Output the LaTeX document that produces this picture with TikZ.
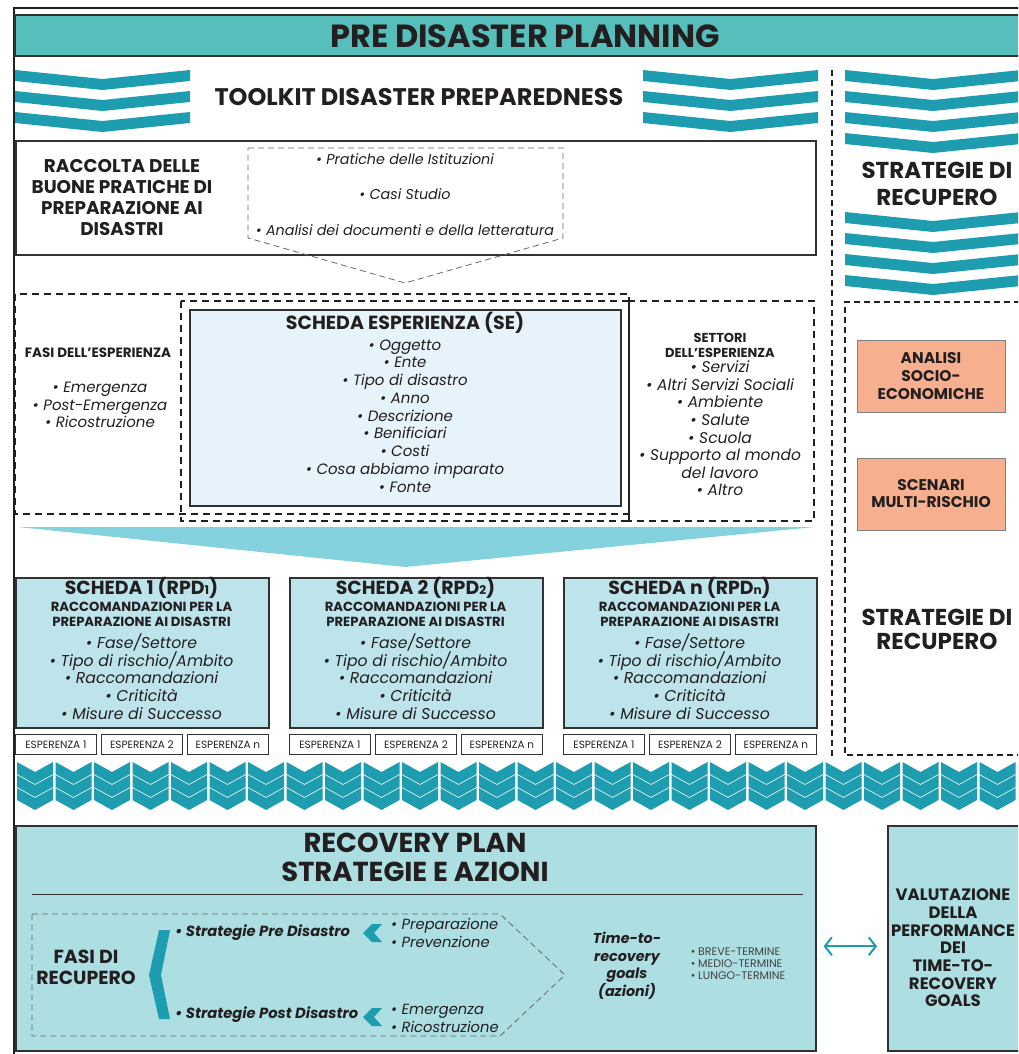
\documentclass[tikz,border=0pt]{standalone}
\usepackage{fontspec}
\setmainfont{Poppins}
\usetikzlibrary{arrows.meta}
\definecolor{kopf}{RGB}{86,191,188}
\definecolor{band}{RGB}{30,156,176}
\definecolor{seblau}{RGB}{231,243,250}
\definecolor{karte}{RGB}{190,228,235}
\definecolor{trichter}{RGB}{132,210,222}
\definecolor{plan}{RGB}{172,222,226}
\definecolor{lachs}{RGB}{246,176,143}
\definecolor{tinte}{RGB}{35,31,32}
\definecolor{rahmen}{RGB}{50,50,50}
\newcommand{\fsz}[2]{\fontsize{#1}{#2}\selectfont}
% one wide V stripe: x, y, width
\newcommand{\streifen}[3]{\fill[band] (#1,#2) -- ++(#3/2,9) -- ++(#3/2,-9) -- ++(0,11) -- ++(-#3/2,9) -- ++(-#3/2,-9) -- cycle;}

\begin{document}
\begin{tikzpicture}[x=1pt,y=-1pt,tinte,
    box/.style={draw=rahmen, line width=1.6pt},
    strich/.style={draw=tinte, line width=1.6pt, dash pattern=on 7pt off 5pt},
    fein/.style={draw=gray!80!black, line width=0.8pt, dash pattern=on 6pt off 4pt},
    txt/.style={inner sep=0pt, align=center, text=tinte},
    esp/.style={draw=rahmen, line width=0.8pt, minimum width=81pt, minimum height=20pt, inner sep=0pt, font=\fsz{10.5}{12}}]

    \useasboundingbox (0,0) rectangle (1018,1054);
    \clip (0,0) rectangle (1018,1054);

    % frame and header
    \draw[line width=1.2pt] (14,1070) -- (14,8) -- (1030,8);
    \node[box, fill=kopf, minimum width=1016pt, minimum height=41pt, anchor=north west] (kopfbalken) at (14,14) {};
    \node[txt, font=\fsz{32}{34}\bfseries] (titel) at (525,36) {PRE DISASTER PLANNING};

    % stripes
    \foreach \y in {70,91,112} {
        \streifen{15}{\y}{175}
        \streifen{643}{\y}{175}
    }
    \foreach \y in {70,91,112,133,212,233,254,275} {
        \streifen{845}{\y}{176}
    }
    \node[txt, font=\fsz{24}{26}\bfseries] (toolkit) at (419,97) {TOOLKIT DISASTER PREPAREDNESS};
    \node[txt, font=\fsz{23}{27}\bfseries] (strat) at (937,183.5) {STRATEGIE DI\\RECUPERO};

    % raccolta
    \node[box, minimum width=800pt, minimum height=114pt, anchor=north west] (raccolta) at (15,140) {};
    \node[txt, font=\fsz{18.4}{21}\bfseries] (raccoltatxt) at (122,197.5) {RACCOLTA DELLE\\BUONE PRATICHE DI\\PREPARAZIONE AI\\DISASTRI};
    \draw[fein] (248,148) -- (563,148) -- (563,238) -- (405,283) coordinate (spitze) -- (248,238) -- cycle;
    \node[txt, font=\fsz{14.3}{35.5}\itshape] (quellen) at (405,194.5) {• Pratiche delle Istituzioni\\• Casi Studio\\• Analisi dei documenti e della letteratura};

    % scheda esperienza
    \draw[strich] (15,294) rectangle (629,514);
    \draw[strich] (181,301) rectangle (629,521);
    \draw[strich] (629,301) rectangle (814,521);
    \node[box, fill=seblau, minimum width=431pt, minimum height=196pt, anchor=north west] (se) at (189,309) {};
    \node[txt, font=\fsz{19}{20}\bfseries] (setitel) at (405,323) {SCHEDA ESPERIENZA (SE)};
    \node[txt, font=\fsz{15}{17.75}\itshape] (sepunkte) at (405,416) {• Oggetto\\• Ente\\• Tipo di disastro\\• Anno\\• Descrizione\\• Benificiari\\• Costi\\• Cosa abbiamo imparato\\• Fonte};
    \node[txt, font=\fsz{13.5}{15}\bfseries] (fasititel) at (98,353) {FASI DELL’ESPERIENZA};
    \node[txt, font=\fsz{15}{17.5}\itshape] (fasipunkte) at (100,405) {• Emergenza\\• Post-Emergenza\\• Ricostruzione};
    \node[txt, font=\fsz{13}{15}\bfseries] (settorititel) at (720,345.5) {SETTORI\\DELL’ESPERIENZA};
    \node[txt, font=\fsz{15.5}{17.6}\itshape] (settoripunkte) at (720,428.5) {• Servizi\\• Altri Servizi Sociali\\• Ambiente\\• Salute\\• Scuola\\• Supporto al mondo\\del lavoro\\• Altro};

    % funnel
    \fill[trichter] (18,527) -- (815,527) -- (405,567) -- cycle;

    % schede RPD
    \foreach \n/\x in {1/15, 2/289, n/563} {
        \node[box, fill=karte, minimum width=253pt, minimum height=150pt, anchor=north west] (karte\n) at (\x,577) {};
        \node[txt, font=\fsz{18.9}{20}\bfseries] (kartetitel\n) at (\x+126.5,588) {SCHEDA \n{} (RPD{\fsz{12}{12}\n})};
        \node[txt, font=\fsz{13.2}{15}\bfseries] (karteunter\n) at (\x+126.5,614.5) {RACCOMANDAZIONI PER LA\\PREPARAZIONE AI DISASTRI};
        \node[txt, font=\fsz{15.7}{17.75}\itshape] (kartepunkte\n) at (\x+126.5,676.5) {• Fase/Settore\\• Tipo di rischio/Ambito\\• Raccomandazioni\\• Criticità\\• Misure di Successo};
        \node[esp, anchor=north west] (esp\n-1) at (\x,734) {ESPERENZA 1};
        \node[esp, anchor=north west] (esp\n-2) at (\x+86,734) {ESPERENZA 2};
        \node[esp, anchor=north west] (esp\n-n) at (\x+172,734) {ESPERENZA n};
    }

    % right column
    \draw[strich, line width=1.4pt, dash pattern=on 6pt off 4pt] (832,70) -- (832,756);
    \draw[strich, line width=1.4pt, dash pattern=on 6pt off 4pt] (1030,302) -- (845,302) -- (845,755) -- (1030,755);
    \node[draw=gray, line width=1pt, fill=lachs, minimum width=148pt, minimum height=72pt, txt, font=\fsz{15.5}{18}\bfseries] (analisi) at (931,376) {ANALISI\\SOCIO-\\ECONOMICHE};
    \node[draw=gray, line width=1pt, fill=lachs, minimum width=148pt, minimum height=72pt, txt, font=\fsz{15.5}{17}\bfseries] (scenari) at (931,494) {SCENARI\\MULTI-RISCHIO};
    \node[txt, font=\fsz{23}{24}\bfseries] (stratunten) at (937,629) {STRATEGIE DI\\RECUPERO};

    % chevron row
    \foreach \i in {0,...,26} {
        \foreach \j in {0,1,2} {
            \fill[band] ({17+38.5*\i},{762+13*\j}) -- ++(18,10) -- ++(18,-10) -- ++(0,12) -- ++(-18,10) -- ++(-18,-10) -- cycle;
        }
    }

    % recovery plan
    \node[box, fill=plan, minimum width=800pt, minimum height=225pt, anchor=north west] (plan) at (15,825) {};
    \node[box, fill=plan, minimum width=150pt, minimum height=225pt, anchor=north west] (valut) at (887,825) {};
    \node[txt, font=\fsz{27.4}{29}\bfseries] (plantitel) at (415,857.5) {RECOVERY PLAN\\STRATEGIE E AZIONI};
    \draw[rahmen, line width=1pt] (32,894) -- (803,894);
    \draw[fein] (32,914) -- (500,914) -- (565,975) -- (500,1036) -- (32,1036) -- cycle;
    \node[txt, font=\fsz{18.9}{21}\bfseries] (fasi) at (86,967.5) {FASI DI\\RECUPERO};
    \fill[band] (159,930) -- (170,930) -- (161,975) -- (170,1019) -- (159,1019) -- (149,975) -- cycle;
    \node[txt, anchor=west, font=\fsz{14.7}{15}\bfseries\itshape] (pre) at (175,933) {• Strategie Pre Disastro};
    \node[txt, anchor=west, font=\fsz{14.7}{15}\bfseries\itshape] (post) at (175,1015) {• Strategie Post Disastro};
    \foreach \y in {933,1017} {
        \fill[band] (382,\y-9) -- (374,\y) -- (382,\y+9) -- (372,\y+9) -- (363,\y) -- (372,\y-9) -- cycle;
    }
    \node[txt, anchor=west, align=left, font=\fsz{14.7}{17.5}\itshape] (prepunkte) at (391,933) {• Preparazione\\• Prevenzione};
    \node[txt, anchor=west, align=left, font=\fsz{14.7}{17.5}\itshape] (postpunkte) at (391,1018.5) {• Emergenza\\• Ricostruzione};
    \node[txt, font=\fsz{14.3}{17.5}\bfseries\itshape] (ttr) at (627,966) {Time-to-\\recovery\\goals\\(azioni)};
    \node[txt, align=left, font=\fsz{11}{12}, text=tinte!85] (termine) at (738,964) {• BREVE-TERMINE\\• MEDIO-TERMINE\\• LUNGO-TERMINE};
    \node[txt, font=\fsz{16.5}{17.7}\bfseries] (valuttxt) at (953,948) {VALUTAZIONE\\DELLA\\PERFORMANCE\\DEI\\TIME-TO-\\RECOVERY\\GOALS};
    \draw[band, line width=2pt, {Straight Barb[length=7pt,width=18pt]}-{Straight Barb[length=7pt,width=18pt]}, shorten <=7pt, shorten >=10pt] ([yshift=-8pt]plan.east) -- ([yshift=-8pt]valut.west);

\end{tikzpicture}
\end{document}
